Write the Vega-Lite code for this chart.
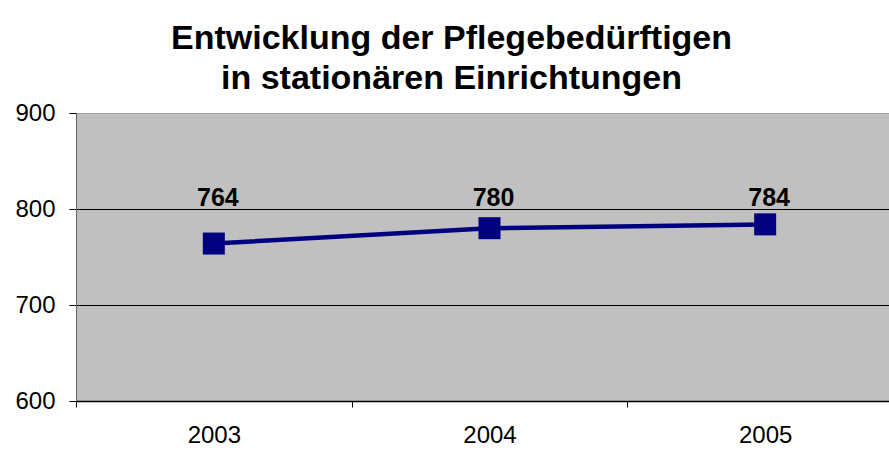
{
  "$schema": "https://vega.github.io/schema/vega-lite/v6.json",
  "width": 813,
  "height": 288,
  "autosize": "none",
  "padding": {"left": 76, "top": 113, "right": 0, "bottom": 49},
  "background": "white",
  "title": {
    "text": ["Entwicklung der Pflegebedürftigen", "in stationären Einrichtungen"],
    "font": "Liberation Sans",
    "fontSize": 34,
    "fontWeight": "bold",
    "color": "black",
    "lineHeight": 40,
    "anchor": "middle",
    "dx": -31,
    "baseline": "alphabetic",
    "offset": -22
  },
  "data": {
    "values": [
      {"year": "2003", "value": 764},
      {"year": "2004", "value": 780},
      {"year": "2005", "value": 784}
    ]
  },
  "encoding": {
    "x": {
      "field": "year",
      "type": "ordinal",
      "scale": {"range": [0, 827], "paddingInner": 0, "paddingOuter": 0},
      "axis": {
        "title": null,
        "labelAngle": 0,
        "labelFont": "Liberation Sans",
        "labelFontSize": 24,
        "labelColor": "black",
        "labelPadding": 16,
        "tickBand": "extent",
        "tickSize": 6,
        "tickColor": "black",
        "domainColor": "black",
        "domainWidth": 1.5,
        "grid": false
      }
    },
    "y": {
      "field": "value",
      "type": "quantitative",
      "scale": {"domain": [600, 900], "nice": false, "zero": false},
      "axis": {
        "title": null,
        "values": [600, 700, 800, 900],
        "labelFont": "Liberation Sans",
        "labelFontSize": 24,
        "labelColor": "black",
        "labelPadding": 14,
        "tickSize": 7,
        "tickColor": "black",
        "domainColor": "#606060",
        "grid": true,
        "gridColor": {"condition": {"test": "datum.value === 900", "value": "#a0a0a0"}, "value": "black"},
        "gridOpacity": 1,
        "gridWidth": 1
      }
    }
  },
  "layer": [
    {
      "mark": {"type": "line", "color": "#000080", "strokeWidth": 4.5}
    },
    {
      "mark": {"type": "square", "color": "#000080", "opacity": 1, "filled": true, "size": 484}
    },
    {
      "mark": {
        "type": "text",
        "font": "Liberation Sans",
        "fontSize": 25,
        "fontWeight": "bold",
        "color": "black",
        "baseline": "alphabetic",
        "dx": 4
      },
      "encoding": {
        "y": {"datum": 803},
        "text": {"field": "value", "type": "quantitative"}
      }
    }
  ],
  "config": {
    "view": {"fill": "#C0C0C0", "stroke": null}
  }
}
